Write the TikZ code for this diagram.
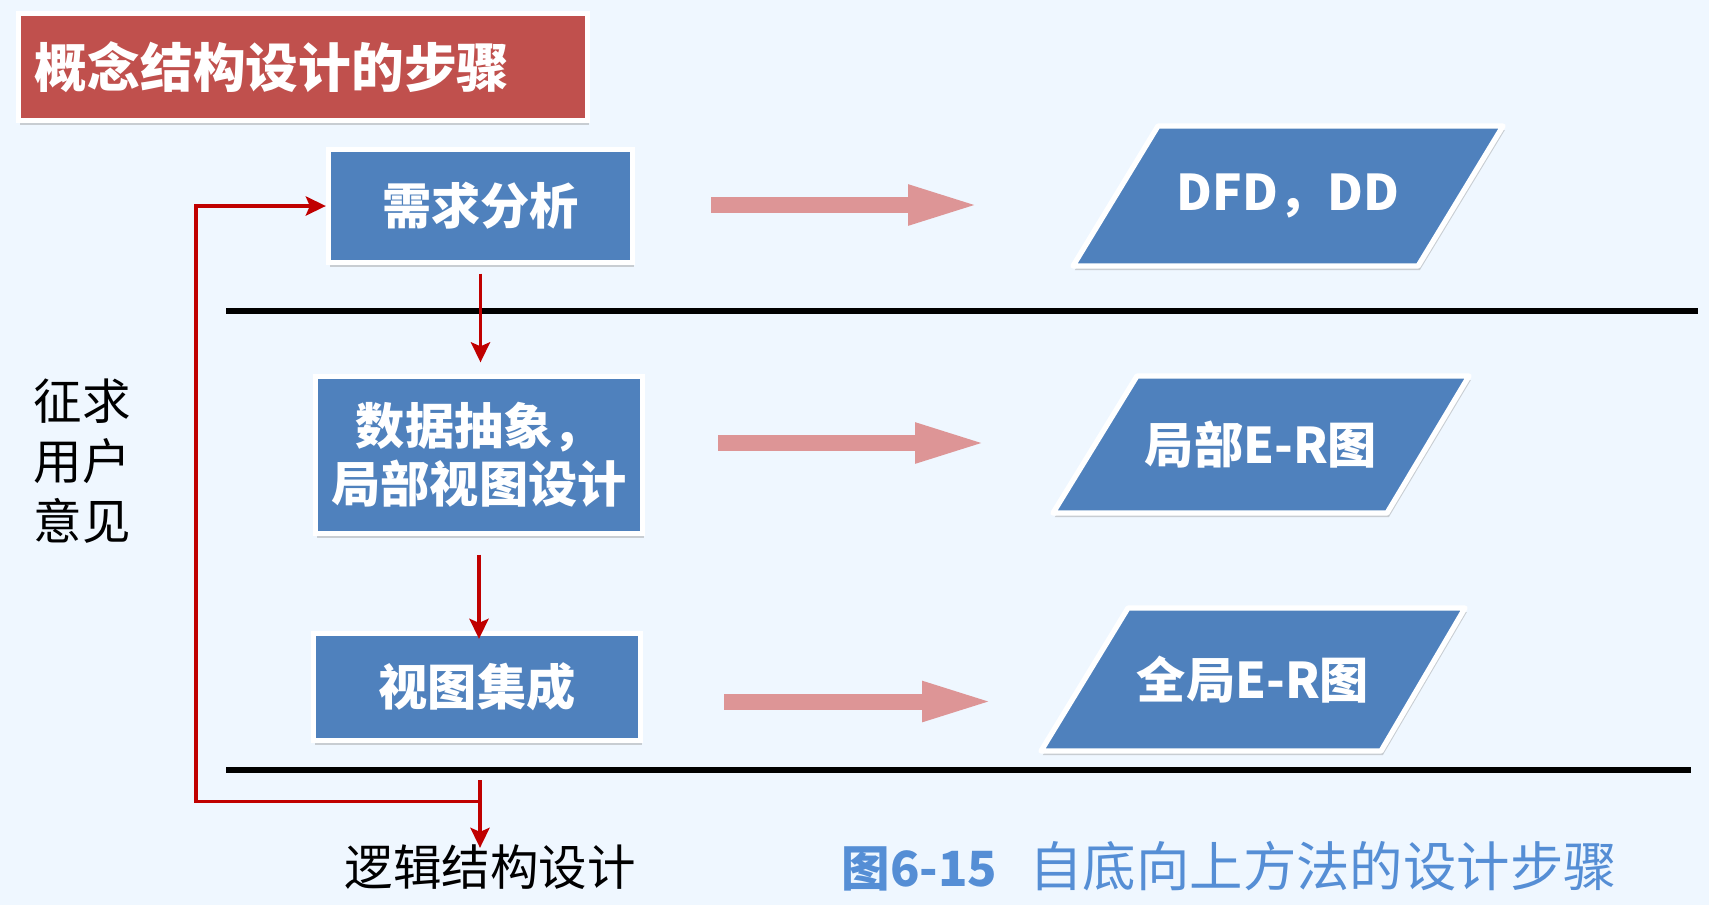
\documentclass[tikz,border=0pt]{standalone}
\usepackage{fontspec}
\newfontfamily\cjk{Noto Sans CJK SC}
\usetikzlibrary{arrows.meta,shadows,calc}

\definecolor{bgblue}{RGB}{239,247,255}
\definecolor{boxblue}{RGB}{79,129,189}
\definecolor{titlered}{RGB}{192,80,77}
\definecolor{flowred}{RGB}{192,0,0}
\definecolor{pinkarrow}{RGB}{221,149,150}
\definecolor{capblue}{RGB}{85,142,213}

\begin{document}
\begin{tikzpicture}[
  softshadow/.style={drop shadow={shadow xshift=0.5pt, shadow yshift=-1.2pt, opacity=0.35}},
  titlebox/.style={rectangle, fill=titlered, draw=white, line width=1.5pt, softshadow,
    minimum height=1.07cm, text width=5.36cm, inner xsep=0.165cm, inner ysep=0pt,
    align=left, text=white, font=\cjk\bfseries\fontsize{15}{18}\selectfont},
  stepbox/.style={rectangle, fill=boxblue, draw=white, line width=1.5pt, softshadow,
    inner sep=0pt, align=center, text=white, font=\cjk\bfseries\fontsize{14}{16.5}\selectfont},
  dataform/.style={fill=boxblue, draw=white, line width=1.5pt, line join=round, softshadow},
  datatext/.style={inner sep=0pt, text=white, font=\cjk\bfseries\fontsize{14}{16.5}\selectfont},
  plaintext/.style={inner sep=0pt, align=center, text=black, font=\cjk\fontsize{13.8}{17}\selectfont},
  captext/.style={inner sep=0pt, text=capblue, font=\cjk\fontsize{15.2}{18}\selectfont},
  sepline/.style={draw=black, line width=1.6pt},
  flowline/.style={draw=flowred, line width=1.1pt, -{Stealth[length=0.2cm, width=0.19cm, inset=0.04cm]}},
  bigarrow/.style={draw=pinkarrow, line width=0.16cm, -{Triangle[length=0.73cm, width=0.36cm]}}
]
  % fondo
  \fill[bgblue] (0,0) rectangle (17.09,9.05);
  \useasboundingbox (0,0) rectangle (17.09,9.05);

  % titulo
  \node[titlebox] (title) at (3.03,8.38) {概念结构设计的步骤};

  % pasos del diseno
  \node[stepbox, minimum width=3.04cm, minimum height=1.13cm] (need) at (4.805,6.99) {需求分析};
  \node[stepbox, minimum width=3.27cm, minimum height=1.57cm] (abstr) at (4.79,4.50) {数据抽象，\\局部视图设计};
  \node[stepbox, minimum width=3.27cm, minimum height=1.07cm] (integ) at (4.77,2.18) {视图集成};

  % separadores
  \draw[sepline] (2.26,5.94) -- (16.98,5.94);
  \draw[sepline] (2.26,1.35) -- (16.91,1.35);

  % resultados de cada paso
  \filldraw[dataform] (10.73,6.39) -- (14.18,6.39) -- (15.03,7.79) -- (11.58,7.79) -- cycle;
  \node[datatext] (dfd) at (12.88,7.09) {DFD，DD};
  \filldraw[dataform] (10.53,3.92) -- (13.87,3.92) -- (14.69,5.29) -- (11.37,5.29) -- cycle;
  \node[datatext] (localer) at (12.61,4.605) {局部E-R图};
  \filldraw[dataform] (10.41,1.54) -- (13.81,1.54) -- (14.65,2.97) -- (11.28,2.97) -- cycle;
  \node[datatext] (globaler) at (12.53,2.255) {全局E-R图};

  % flechas rosas
  \coordinate (a1s) at (7.11,7.00);  \coordinate (a1e) at (9.81,7.00);
  \coordinate (a2s) at (7.18,4.62);  \coordinate (a2e) at (9.88,4.62);
  \coordinate (a3s) at (7.24,2.035); \coordinate (a3e) at (9.95,2.035);
  \draw[bigarrow] (a1s) -- (a1e);
  \draw[bigarrow] (a2s) -- (a2e);
  \draw[bigarrow] (a3s) -- (a3e);

  % textos sueltos
  \node[plaintext] (advice) at (0.82,4.44) {征求\\用户\\意见};
  \node[plaintext] (logic) at (4.90,0.38) {逻辑结构设计};
  \node[captext, anchor=west] (cap) at (8.41,0.39) {{\bfseries\fontsize{13.8}{17}\selectfont 图6-15}\hspace{0.6em}自底向上方法的设计步骤};

  % flujo
  \draw[flowline, shorten <=0.085cm, shorten >=0.115cm] (need.south) -- (need.south |- abstr.north);
  \draw[flowline, shorten <=0.185cm, shorten >=-0.08cm] (abstr.south) -- (abstr.south |- integ.north);
  \coordinate (split) at (4.80,1.25);
  \coordinate (fork) at (4.80,1.035);
  \draw[flowline, shorten >=-0.04cm] (split) -- (split |- logic.north);
  \draw[flowline] (fork) -- ++(-2.84,0) |- (need.west);
\end{tikzpicture}
\end{document}
